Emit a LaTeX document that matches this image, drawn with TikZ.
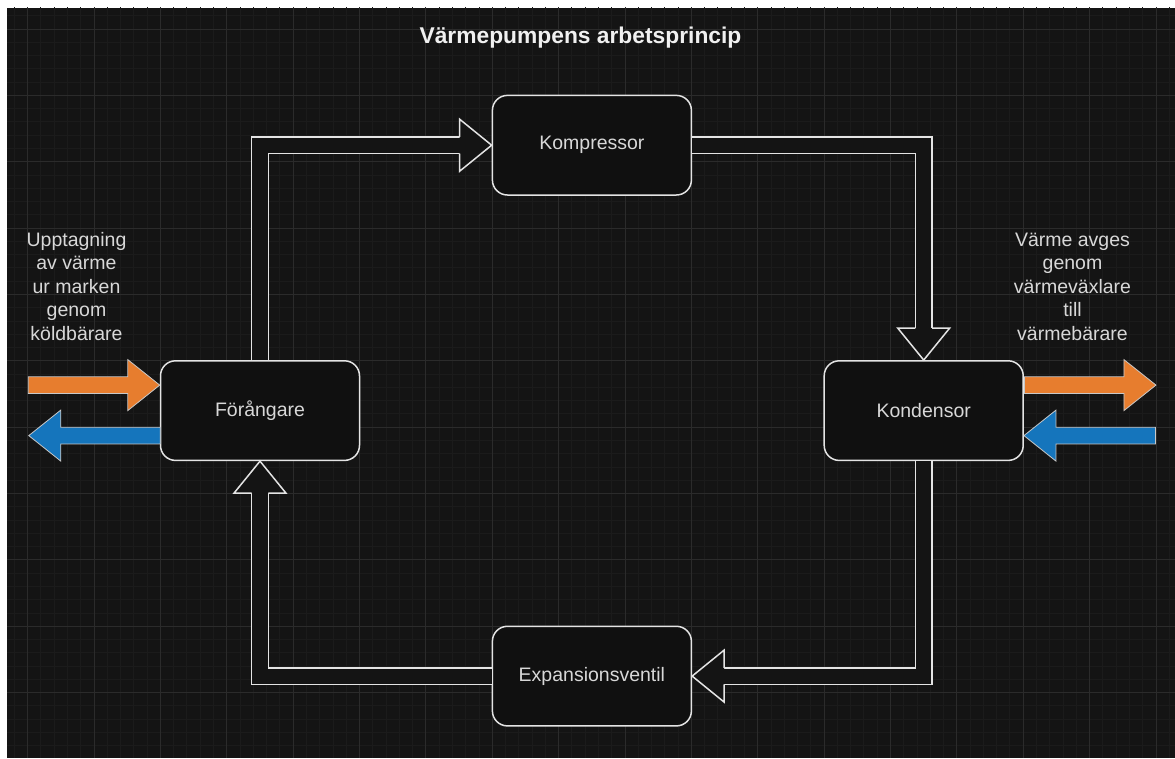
\documentclass[tikz,border=0pt]{standalone}
\usepackage{fontspec}
\setmainfont{Liberation Sans}
\usetikzlibrary{calc, positioning}

\definecolor{canvas}{HTML}{141414}
\definecolor{gridminor}{HTML}{1B1B1B}
\definecolor{gridmajor}{HTML}{2B2B2B}
\definecolor{boxfill}{HTML}{101010}
\definecolor{edge}{HTML}{E4E4E4}
\definecolor{label}{HTML}{D8D8D8}
\definecolor{warm}{HTML}{E77D2E}
\definecolor{cold}{HTML}{1575BC}
\definecolor{rim}{HTML}{C8C8C8}

\begin{document}
\begin{tikzpicture}[x=1pt, y=-1pt,
  box/.style={draw=edge, fill=boxfill, line width=1.5pt, rounded corners=15pt,
    minimum width=199pt, minimum height=99.6pt, inner sep=0pt,
    text=label, font=\fontsize{19.5}{23.5}\selectfont},
  note/.style={text=label, align=center, inner sep=0pt, font=\fontsize{19.5}{23.5}\selectfont},
  heading/.style={text=white!94!black, inner sep=0pt, font=\bfseries\fontsize{22.8}{27}\selectfont},
  flow/.style={draw=edge, line width=1.5pt, double=canvas, double distance=15.1pt},
  headline/.style={draw=edge, fill=canvas, line width=1.5pt, line join=miter},
  warmarrow/.style={fill=warm, draw=rim, line width=0.8pt},
  coldarrow/.style={fill=cold, draw=rim, line width=0.8pt},
  minorline/.style={draw=gridminor, line width=1pt},
  majorline/.style={draw=gridmajor, line width=1pt},
  flathead/.pic={\path[pic actions] (-32,-8.3) -- (-32,-26) -- (0,0) -- (-32,26) -- (-32,8.3);},
  fatarrow/.pic={\path[pic actions] (-131.5,-8.3) -- (-32,-8.3) -- (-32,-25.5) -- (0,0)
    -- (-32,25.5) -- (-32,8.3) -- (-131.5,8.3) -- cycle;},
]

% page and grid
\fill[white] (0,0) rectangle (1175,758);
\useasboundingbox (0,0) rectangle (1175,758);
\fill[canvas] (7,7.7) rectangle (1175,758);
\begin{scope}
  \clip (7,7.7) rectangle (1175,758);
  \foreach \i in {0,...,89} \draw[minorline] ({1.15+13.274*\i},0) -- ++(0,758);
  \foreach \i in {0,...,57} \draw[minorline] (0,{2.45+13.274*\i}) -- ++(1175,0);
  \foreach \i in {0,...,17} \draw[majorline] ({27.7+66.37*\i},0) -- ++(0,758);
  \foreach \i in {0,...,11} \draw[majorline] (0,{29+66.37*\i}) -- ++(1175,0);
\end{scope}

\node[heading, anchor=base] (title) at (580.5, 43.5) {Värmepumpens arbetsprincip};

% the four components
\node[box] (komp) at (591.9, 145.2) {Kompressor};
\node[box] (evap) at (260, 410.6) {Förångare};
\node[box] (kond) at (923.7, 410.6) {Kondensor};
\node[box] (exp)  at (591.9, 676.1) {Expansionsventil};

% refrigerant circuit
\draw[flow] (evap.north) |- ($(komp.west)+(-32,0)$);
\pic[headline] at (komp.west) {flathead};
\draw[flow] (komp.east) -| ($(kond.north)+(0,-32)$);
\pic[headline, rotate=-90] at (kond.north) {flathead};
\draw[flow] (kond.south) |- ($(exp.east)+(32,0)$);
\pic[headline, rotate=180] at (exp.east) {flathead};
\draw[flow] (exp.west) -| ($(evap.south)+(0,32)$);
\pic[headline, rotate=90] at (evap.south) {flathead};

% brine and heating circuits
\pic[warmarrow] at ($(evap.west)+(0,-25.5)$) {fatarrow};
\pic[coldarrow, rotate=180] at ($(evap.west)+(-131,25)$) {fatarrow};
\pic[warmarrow] at ($(kond.east)+(132,-25.5)$) {fatarrow};
\pic[coldarrow, rotate=180] at ($(kond.east)+(0,25)$) {fatarrow};

% last line sits on the given baseline
\node[note, anchor=base] (intake) at (76.5, 340) {Upptagning\\av värme\\ur marken\\genom\\köldbärare};
\node[note, anchor=base] (output) at (1072.5, 340) {Värme avges\\genom\\värmeväxlare\\till\\värmebärare};

\end{tikzpicture}
\end{document}
